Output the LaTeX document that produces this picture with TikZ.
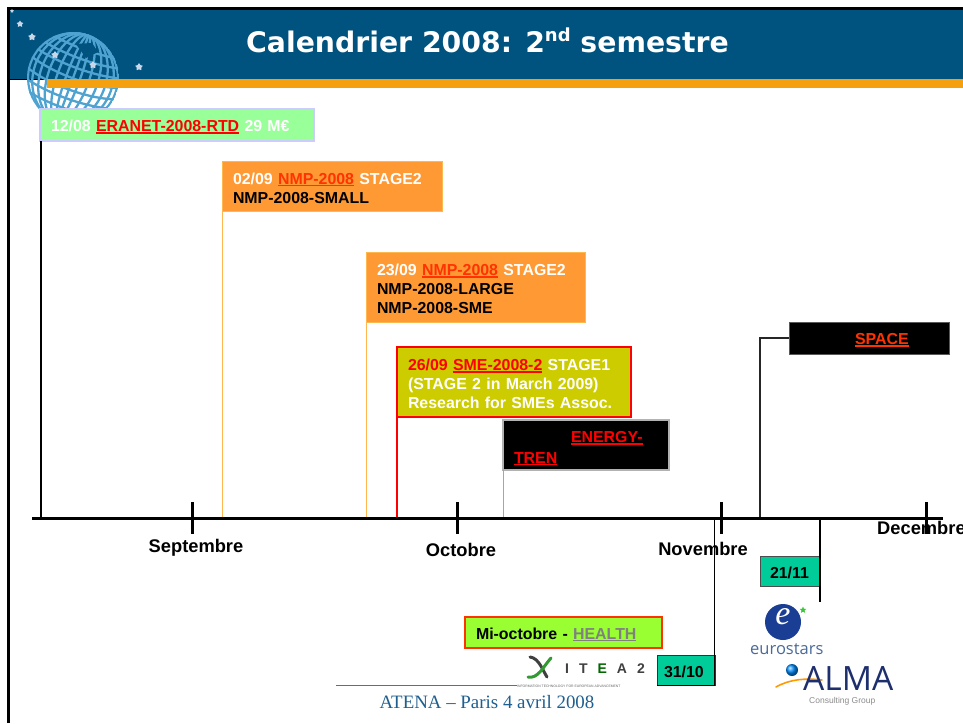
\documentclass[tikz,border=0pt]{standalone}
\usepackage{fontspec}
\usetikzlibrary{shapes.geometric}
\setmainfont{Liberation Sans}
\newfontfamily\titlefont{DejaVu Sans}
\newfontfamily\serifff{Liberation Serif}
\newfontfamily\logofont{Open Sans}
\definecolor{hdr}{HTML}{00527F}
\definecolor{barc}{HTML}{F4A00F}
\definecolor{globec}{HTML}{4FA3D1}
\definecolor{grn}{HTML}{99FF99}
\definecolor{org}{HTML}{FF9933}
\definecolor{orgl}{HTML}{FFB84D}
\definecolor{olive}{HTML}{CCCC00}
\definecolor{teal1}{HTML}{00CC99}
\definecolor{lime}{HTML}{99FF33}
\definecolor{redo}{HTML}{FF3300}
\definecolor{foot}{HTML}{1F5F8F}
\definecolor{starc}{HTML}{C8D8E8}
\definecolor{eurob}{HTML}{1A3E94}
\definecolor{eurot}{HTML}{4A6A9A}
\definecolor{almab}{HTML}{1E2F6E}
\newcommand\ulx[1]{\leavevmode\setbox0\hbox{#1}\rlap{\rule[-2.4pt]{\wd0}{1.6pt}}\box0}
\newcommand\rd[1]{{\color{red}\ulx{#1}}}
\newcommand\wh[1]{{\color{white}#1}}
\tikzset{
 x=1pt,y=-1pt,
 evbox/.style={rectangle,draw,anchor=north west,outer sep=0pt,inner xsep=11pt,inner ysep=0pt,align=left,
   font=\fontsize{15.9}{19.2}\selectfont\bfseries,execute at begin node={\rule{0pt}{15.5pt}}},
 month/.style={font=\fontsize{18.3}{19}\selectfont\bfseries,inner sep=0pt},
 tickm/.style={line width=3pt,black},
 startile/.style={star,star points=5,star point ratio=1.7,fill=starc,inner sep=0pt,minimum size=#1},
}
\begin{document}
\begin{tikzpicture}
\useasboundingbox (0,0) rectangle (963,723);
\clip (0,0) rectangle (963,723);
\fill[white] (0,0) rectangle (963,723);
% frame and header
\fill[black] (7,7) rectangle (963,80);
\fill[black] (7,80) rectangle (10,723);
\fill[hdr] (10,10) rectangle (963,79);
% globe
\begin{scope}
\clip (0,0) rectangle (963,108);
\begin{scope}[shift={(73,78)},rotate=-20]
\clip (0,0) circle (46);
\begin{scope}[globec,line width=2.3pt]
\draw (0,0) circle (45);
\foreach \r in {7,16,25,33,40} {\draw (0,0) ellipse (\r pt and 46pt);}
\draw (0,-46) -- (0,46);
\foreach \y/\r in {-36/12,-26/12,-16/12,-6/14,6/14,16/12,26/12,36/12} {\draw (-46,\y) .. controls (-20,\y+\r*0.6) and (20,\y+\r*0.6) .. (46,\y);}
\end{scope}
\end{scope}
\fill[hdr] (76,44) -- (92,43) -- (98,52) -- (86,58) -- cycle;
\end{scope}
\fill[barc] (47,79) rectangle (963,88);
\node[startile=7pt] (s1) at (20,24) {};
\node[startile=8pt] (s2) at (32,37) {};
\node[startile=8pt] (s3) at (55,55) {};
\node[startile=8pt] (s4) at (93,65) {};
\node[startile=8pt] (s5) at (139,67) {};
\node[startile=4pt] (s6) at (12,11) {};
\node[anchor=base west,inner sep=0pt,text=white,font=\titlefont\fontsize{28.3}{30}\selectfont\bfseries] (title) at (246,52) {Calendrier 2008: 2\raisebox{.38em}{\fontsize{18}{20}\selectfont nd} semestre};
% axis
\coordinate (axL) at (32,518);
\coordinate (axR) at (943,518);
\coordinate (t1) at (192,518);
\coordinate (t2) at (457,518);
\coordinate (t3) at (721,518);
\coordinate (t4) at (926,518);
% event boxes
\node[evbox,draw=orgl,fill=org,line width=1pt,minimum width=220pt,minimum height=50pt,text width=198pt,text=black] (nmpa) at (222,161)
 {\wh{02/09} {\color{redo}\ulx{NMP-2008}} \wh{STAGE2}\\NMP-2008-SMALL};
\node[evbox,draw=orgl,fill=org,line width=1pt,minimum width=219pt,minimum height=70pt,text width=197pt,text=black] (nmpb) at (366,252)
 {\wh{23/09} {\color{redo}\ulx{NMP-2008}} \wh{STAGE2}\\NMP-2008-LARGE\\NMP-2008-SME};
\node[evbox,draw=red,fill=olive,line width=1.5pt,minimum width=234pt,minimum height=70pt,text width=212pt,text=white] (sme) at (397,347)
 {{\color{red}26/09} \rd{SME-2008-2} STAGE1\\(STAGE 2 in March 2009)\\Research for SMEs Assoc.};
\node[evbox,draw=black!30,fill=black,line width=2pt,minimum width=166pt,minimum height=50pt,text width=144pt,font=\fontsize{15.9}{20.5}\selectfont\bfseries,execute at begin node={\rule{0pt}{18pt}}] (energy) at (503,420)
 {\hspace*{57pt}\rd{ENERGY-}\\\rd{TREN}};
\node[evbox,draw=black!65,fill=black,line width=1pt,minimum width=160pt,minimum height=32pt,text width=138pt] (space) at (789,322)
 {\hspace*{55pt}{\color{redo}\ulx{SPACE}}};
\node[evbox,draw=blue!20,fill=grn,line width=2pt,minimum width=274pt,minimum height=32pt,text width=252pt,text=white] (eranet) at (40,109)
 {12/08 \rd{ERANET-2008-RTD} 29 M€};
% connectors up
\draw[line width=1.8pt,black] (eranet.south west) ++(1,0) coordinate (e0) -- (e0 |- axL);
\draw[line width=1pt,orgl] (nmpa.south west) -- (nmpa.south west |- axL);
\draw[line width=1pt,orgl] (nmpb.south west) -- (nmpb.south west |- axL);
\draw[line width=1.5pt,red] (sme.south west) -- (sme.south west |- axL);
\draw[line width=1pt,black!35] (energy.south west) -- (energy.south west |- axL);
\coordinate (spc) at (760,338);
\draw[line width=1.6pt,black!85] (space.west) -- (space.west -| spc) -- (spc |- axL);
% lower boxes
\node[evbox,draw=black!70,fill=teal1,line width=1pt,minimum width=60pt,minimum height=30pt,text width=40pt,inner xsep=10pt,text=black] (d2111) at (760,556) {21/11};
\node[evbox,draw=black!80,fill=teal1,line width=1pt,minimum width=58pt,minimum height=30pt,text width=44pt,inner xsep=7pt,text=black] (d3110) at (657,655) {31/10};
\node[evbox,draw=redo,fill=lime,line width=1.5pt,minimum width=197pt,minimum height=31pt,text width=175pt,text=black] (health) at (465,617)
 {Mi-octobre - {\color{black!50}\ulx{HEALTH}}};
\coordinate (h1) at (820,518);
\draw[line width=2pt,black] (h1) -- (h1 |- d2111.south east) -- ++(0,16) coordinate (h1e);
\coordinate (h2) at (714.5,518);
\draw[line width=1pt,black] (h2) -- (h2 |- d3110.south east) -- (d3110.south west);
% axis on top
\draw[line width=3pt,black] (axL) -- (axR);
\foreach \t in {t1,t2,t3,t4} {\draw[tickm] (\t) ++(0,-16) -- ++(0,32);}
% month labels
\node[month] (m1) at (196,548) {Septembre};
\node[month] (m2) at (461,550) {Octobre};
\node[month] (m3) at (703,549) {Novembre};
\node[month,anchor=west] (m4) at (877,528) {Decembre};
% ITEA logo
\fill[white] (517,652) rectangle (657,688);
\begin{scope}[shift={(540,667)}]
\draw[line width=3pt,black!75,line cap=round] (-10,-10) .. controls (-1,-9) and (3,4) .. (7,10);
\draw[line width=3pt,green!50!black!80,line cap=round] (-12,10) .. controls (-2,12) and (3,0) .. (11,-9);
\end{scope}
\node[anchor=base west,inner sep=0pt,font=\fontsize{14}{14}\selectfont\bfseries,text=black!75] (itea) at (565,673) {I\hspace{10pt}T\hspace{10pt}{\color{green!40!black}E}\hspace{10pt}A\hspace{10pt}2};
\node[anchor=base west,inner sep=0pt,font=\fontsize{3.4}{4}\selectfont,text=black!60] (iteasub) at (517,687) {INFORMATION TECHNOLOGY FOR EUROPEAN ADVANCEMENT};
% footer
\coordinate (fl) at (336,685);
\coordinate (fr) at (517,685);
\draw[line width=1pt,foot!85] (fl) -- (fr);
\node[anchor=base,inner sep=0pt,font=\serifff\fontsize{18.9}{20}\selectfont,text=foot] (footer) at (487,708) {ATENA – Paris 4 avril 2008};
% eurostars
\fill[eurob] (783,622) circle (18);
\node[inner sep=0pt,text=white,font=\serifff\itshape\fontsize{34}{34}\selectfont] (eure) at (783,617) {e};
\node[star,star points=5,star point ratio=2.2,fill=green!55!gray,inner sep=0pt,minimum size=7pt] (eurstar) at (803,610) {};
\node[anchor=base west,inner sep=0pt,font=\logofont\fontsize{16.5}{18}\selectfont,text=eurot] (eurtext) at (750,654) {eurostars};
% ALMA
\draw[line width=1.6pt,orange!80!yellow,line cap=round] (776,687) .. controls (790,679) and (806,678) .. (822,680);
\shade[ball color=blue!45!cyan] (792,670) circle (6);
\node[anchor=base west,inner sep=0pt,font=\logofont\fontsize{33.5}{33}\selectfont,text=almab] (alma) at (803,690) {ALMA};
\node[anchor=base west,inner sep=0pt,font=\fontsize{8.5}{9}\selectfont,text=black!45] (almasub) at (809,703) {Consulting Group};
\end{tikzpicture}
\end{document}
